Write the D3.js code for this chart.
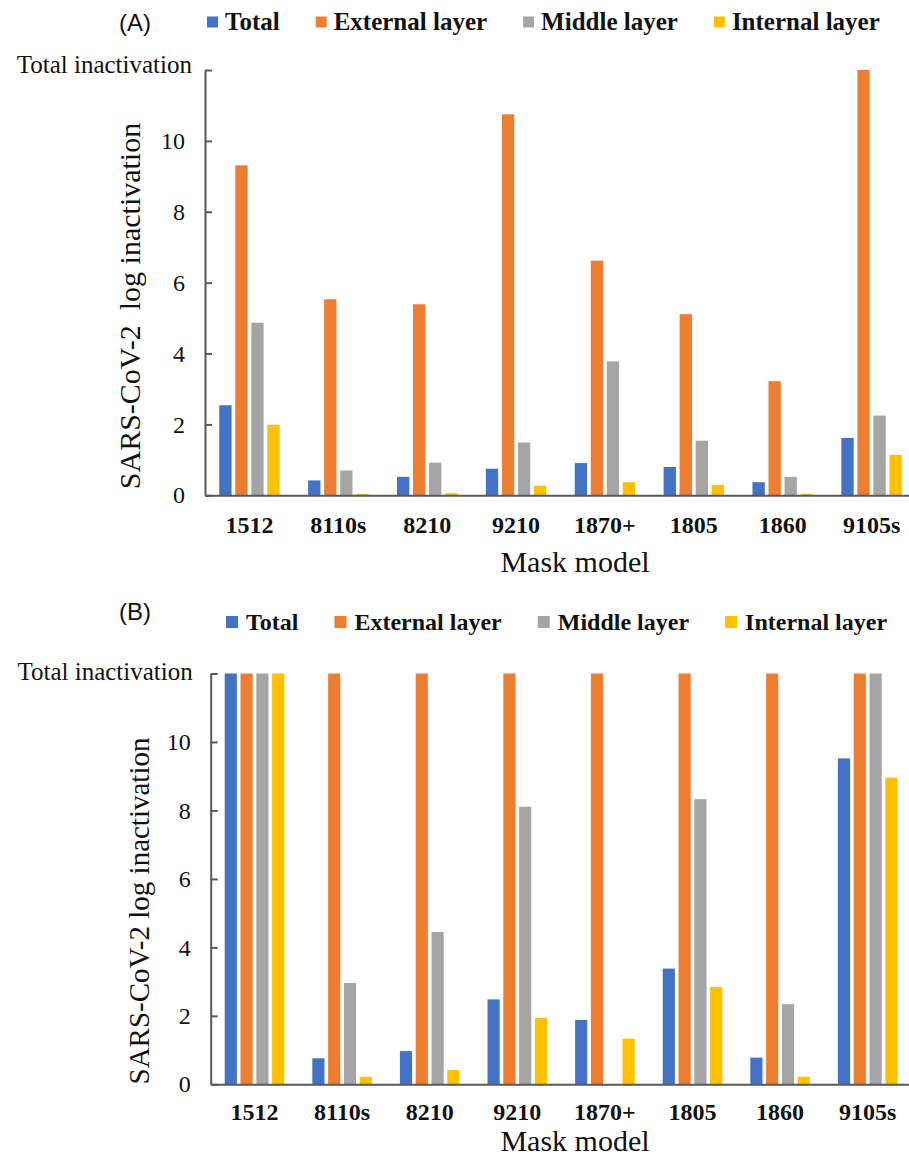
<!DOCTYPE html>
<html>
<head>
<meta charset="utf-8">
<script src="https://cdn.jsdelivr.net/npm/d3@7"></script>
<style>
  body { margin: 0; background: #fff; }
  svg { display: block; background: #fff; }
  text { font-family: "Liberation Serif", "Times New Roman", serif; fill: #111; }
</style>
</head>
<body>
<svg id="chart" width="909" height="1160"></svg>
<script>
// ---------- data ----------
const categories = ["1512", "8110s", "8210", "9210", "1870+", "1805", "1860", "9105s"];
const seriesNames = ["Total", "External layer", "Middle layer", "Internal layer"];
const seriesColors = ["#4472C4", "#ED7D31", "#A5A5A5", "#FFC000"];
const yTickValues = [0, 2, 4, 6, 8, 10, 12];
const topTickLabel = "Total inactivation";
const xAxisTitle = "Mask model";

// Panel (A)
const totalA    = [2.54, 0.42, 0.52, 0.75, 0.91, 0.80, 0.37, 1.62];
const externalA = [9.31, 5.53, 5.39, 10.75, 6.62, 5.11, 3.22, 12];
const middleA   = [4.87, 0.70, 0.92, 1.49, 3.78, 1.54, 0.52, 2.25];
const internalA = [1.99, 0.04, 0.06, 0.27, 0.37, 0.29, 0.04, 1.14];

// Panel (B)
const totalB    = [12, 0.76, 0.97, 2.48, 1.88, 3.38, 0.78, 9.52];
const externalB = [12, 12, 12, 12, 12, 12, 12, 12];
const middleB   = [12, 2.96, 4.45, 8.11, 0, 8.33, 2.34, 12];
const internalB = [12, 0.22, 0.42, 1.94, 1.33, 2.84, 0.22, 8.96];

// ---------- drawing ----------
const svg = d3.select("#chart");
svg.append("rect").attr("width", 909).attr("height", 1160).attr("fill", "#fff");

function drawPanel(cfg) {
  const g = svg.append("g");
  const values = cfg.series;

  const y = d3.scaleLinear().domain([0, 12]).range([cfg.yBottom, cfg.yTop]);
  const x0 = d3.scaleBand().domain(categories).range([cfg.xLeft, cfg.xRight]).padding(0);
  const groupFrac = 0.68;
  const x1 = d3.scaleBand().domain(seriesNames)
    .range([0, x0.bandwidth() * groupFrac]).paddingInner(0.23).paddingOuter(0);
  const groupOffset = x0.bandwidth() * (1 - groupFrac) / 2;

  // bars
  seriesNames.forEach((s, si) => {
    g.append("g").selectAll("rect")
      .data(categories.map((c, ci) => ({ c, v: values[si][ci] })))
      .join("rect")
      .attr("x", d => x0(d.c) + groupOffset + x1(s))
      .attr("width", x1.bandwidth())
      .attr("y", d => y(d.v))
      .attr("height", d => y(0) - y(d.v))
      .attr("fill", seriesColors[si]);
  });

  // y axis
  const yAxis = d3.axisLeft(y).tickValues(yTickValues)
    .tickSize(-7).tickSizeOuter(0).tickPadding(cfg.tickPad)
    .tickFormat(d => d === 12 ? topTickLabel : d3.format("d")(d));
  const ya = g.append("g").attr("transform", `translate(${cfg.xLeft},0)`).call(yAxis);
  ya.select(".domain").attr("stroke", "#595959").attr("stroke-width", 2);
  ya.selectAll(".tick line").attr("stroke", "#595959").attr("stroke-width", 2);
  ya.selectAll(".tick text")
    .attr("font-family", "Liberation Serif, Times New Roman, serif")
    .attr("font-size", 24).attr("fill", "#111");
  ya.selectAll(".tick text").filter(d => d === 12)
    .attr("x", -cfg.topPad).attr("font-size", 25).attr("dy", cfg.topDy);

  // x axis
  const xAxis = d3.axisBottom(x0).tickSize(0).tickSizeOuter(0);
  const xa = g.append("g").attr("transform", `translate(0,${cfg.yBottom})`).call(xAxis);
  xa.select(".domain").attr("stroke", "#595959").attr("stroke-width", 2);
  xa.selectAll(".tick text")
    .attr("font-family", "Liberation Serif, Times New Roman, serif")
    .attr("font-size", 24).attr("font-weight", "bold").attr("fill", "#111")
    .attr("y", cfg.xLabelOffset).attr("dy", 0);

  // axis titles
  g.append("text")
    .attr("x", 575).attr("y", cfg.xTitleY)
    .attr("text-anchor", "middle").attr("font-size", 30)
    .text(xAxisTitle);

  g.append("text")
    .attr("transform", `translate(${cfg.yTitleX},${cfg.yTitleY}) rotate(-90)`)
    .attr("text-anchor", "middle").attr("font-size", cfg.yTitleSize)
    .style("white-space", "pre").attr("xml:space", "preserve")
    .text(cfg.yTitle);

  // panel label
  g.append("text")
    .attr("x", 135).attr("y", cfg.labelY)
    .attr("text-anchor", "middle")
    .attr("font-size", 24)
    .style("font-family", "'Liberation Sans', Arial, sans-serif")
    .text(cfg.label);

  // legend
  const lg = g.append("g");
  let cx = cfg.legendX;
  seriesNames.forEach((s, si) => {
    lg.append("rect")
      .attr("x", cx).attr("y", cfg.legendY - cfg.sq / 2)
      .attr("width", cfg.sq).attr("height", cfg.sq)
      .attr("fill", seriesColors[si]);
    const t = lg.append("text")
      .attr("x", cx + cfg.sq + cfg.sqGap).attr("y", cfg.legendY + 8)
      .attr("font-size", cfg.legendFont).attr("font-weight", "bold")
      .text(s);
    cx += cfg.sq + cfg.sqGap + t.node().getComputedTextLength() + cfg.itemGap;
  });
}

drawPanel({
  series: [totalA, externalA, middleA, internalA],
  yTop: 70, yBottom: 495.3, xLeft: 205, xRight: 916,
  tickPad: 20, topPad: 13, topDy: "0.1em", xLabelOffset: 38, xTitleY: 572,
  yTitle: "SARS-CoV-2  log inactivation", yTitleX: 140, yTitleY: 306, yTitleSize: 30,
  label: "(A)", labelY: 31,
  legendX: 207, legendY: 22, sq: 11, sqGap: 7, itemGap: 36, legendFont: 25
});

drawPanel({
  series: [totalB, externalB, middleB, internalB],
  yTop: 673.5, yBottom: 1084.3, xLeft: 210.7, xRight: 911.5,
  tickPad: 20, topPad: 18, topDy: "0.22em", xLabelOffset: 36, xTitleY: 1151,
  yTitle: "SARS-CoV-2 log inactivation", yTitleX: 149, yTitleY: 911, yTitleSize: 29,
  label: "(B)", labelY: 620,
  legendX: 226, legendY: 622, sq: 12, sqGap: 8, itemGap: 36, legendFont: 24
});
</script>
</body>
</html>
